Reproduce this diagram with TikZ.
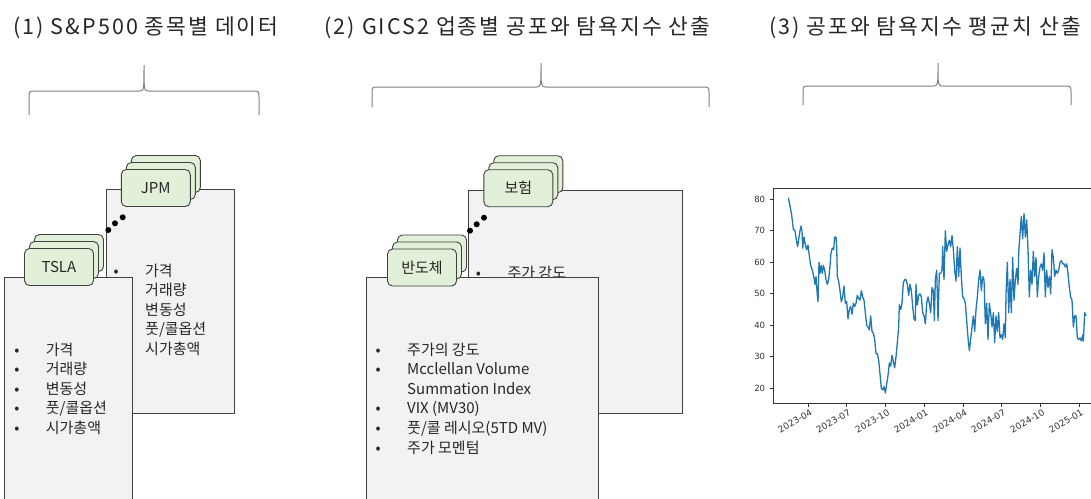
\documentclass[tikz,border=0pt]{standalone}
\usepackage{fontspec}
\setmainfont{Noto Sans CJK KR}
\newfontfamily\chartfont{DejaVu Sans}
\usetikzlibrary{positioning,shadows}

\definecolor{boxfill}{HTML}{F2F2F2}
\definecolor{boxline}{HTML}{404040}
\definecolor{tagfill}{HTML}{E2F0D9}
\definecolor{textcol}{HTML}{262626}
\definecolor{bracecol}{HTML}{808080}
\definecolor{linecol}{HTML}{1F77B4}
\definecolor{axiscol}{HTML}{333333}

\newcommand{\bul}{\makebox[29pt][l]{\makebox[0pt]{\textbullet}}}

\begin{document}
\begin{tikzpicture}[
  x=1pt, y=-1pt,
  title/.style={font=\fontsize{21.5}{24}\selectfont\addfontfeature{LetterSpace=9.5},
    text=textcol, inner sep=0pt},
  bigbox/.style={draw=boxline, fill=boxfill, line width=0.9pt, anchor=north west, inner sep=0pt},
  tagbox/.style={draw=boxline, fill=tagfill, line width=0.9pt, rounded corners=5pt,
    minimum width=69pt, minimum height=37pt, inner sep=0pt,
    font=\fontsize{15}{18}\selectfont, text=textcol,
    double copy shadow={shadow xshift=5pt, shadow yshift=7pt, fill=tagfill, draw=boxline, line width=0.9pt}},
  itemlist/.style={anchor=north west, inner sep=0pt, align=left, text=textcol,
    font=\fontsize{15}{19.6}\selectfont},
  bracket/.style={draw=bracecol, line width=1pt},
  dot/.style={circle, fill=black, inner sep=0pt, minimum size=6pt},
  ticklab/.style={font=\chartfont\fontsize{8.5}{10}\selectfont, text=axiscol, inner sep=0pt}
  ]
  \clip (0,0) rectangle (1091,498);

  \node[title] (t1) at (146,28) {(1) S\&P500 종목별 데이터};
  \node[title] (t2) at (517.5,28) {(2) GICS2 업종별 공포와 탐욕지수 산출};
  \node[title] (t3) at (925,28) {(3) 공포와 탐욕지수 평균치 산출};

  \draw[bracket] (29,115) -- (29,98) .. controls (29,91) .. (36,91) -- (139,91)
    .. controls (144,91) .. (144,65) .. controls (144,91) .. (149,91) -- (252,91)
    .. controls (259,91) .. (259,98) -- (259,115);
  \draw[bracket] (372,107) -- (372,94) .. controls (372,87) .. (379,87) -- (536,87)
    .. controls (541,87) .. (541,63) .. controls (541,87) .. (546,87) -- (702,87)
    .. controls (709,87) .. (709,94) -- (709,107);
  \draw[bracket] (803,105) -- (803,93) .. controls (803,86) .. (810,86) -- (933,86)
    .. controls (938,86) .. (938,63) .. controls (938,86) .. (943,86) -- (1064,86)
    .. controls (1071,86) .. (1071,93) -- (1071,105);

  % (1)
  \node[bigbox, minimum width=128pt, minimum height=223.7pt] (jpmbox) at (106,189.3) {};
  \node[itemlist] (jpmlist) at (116,263.5) {\bul 가격\\ \hspace*{29pt}거래량\\ \hspace*{29pt}변동성\\
    \hspace*{29pt}풋/콜옵션\\ \hspace*{29pt}시가총액};
  \node[tagbox] (jpmtag) at (155.8,188) {JPM};
  \node[dot] (jd1) at (108.3,230) {};
  \node[dot] (jd2) at (115,223.3) {};
  \node[dot] (jd3) at (122.7,217.3) {};

  \node[bigbox, minimum width=127.7pt, minimum height=240pt] (tslabox) at (4,276.7) {};
  \node[itemlist] (tslalist) at (16.7,342.5) {\bul 가격\\ \bul 거래량\\ \bul 변동성\\
    \bul 풋/콜옵션\\ \bul 시가총액};
  \node[tagbox] (tslatag) at (59,267) {TSLA};

  % (2)
  \node[bigbox, minimum width=213.4pt, minimum height=222.7pt] (insbox) at (468.3,190) {};
  \node[itemlist] (inslist) at (478.3,265.8) {\bul 주가 강도};
  \node[tagbox] (instag) at (518.3,188.2) {보험};
  \node[dot] (id1) at (470,230.7) {};
  \node[dot] (id2) at (476.7,224.3) {};
  \node[dot] (id3) at (484,217.7) {};

  \node[bigbox, minimum width=232.3pt, minimum height=240pt] (semibox) at (366,277.3) {};
  \node[itemlist] (semilist) at (378,342.5) {\bul 주가의 강도\\ \bul Mcclellan Volume\\
    \hspace*{29pt}Summation Index\\ \bul VIX (MV30)\\ \bul 풋/콜 레시오(5TD MV)\\ \bul 주가 모멘텀};
  \node[tagbox] (semitag) at (422,267.5) {반도체};

  % (3)
  \begin{scope}[x=0.33333pt, y=3.15pt, shift={(730pt,-451.3pt)}]
    \draw[axiscol, line width=0.8pt] (1100,83.5) -- (130,83.5) -- (130,15.24) -- (1100,15.24);
    \foreach \v in {20,30,...,80} {
      \draw[axiscol, line width=0.7pt] (130,\v) -- (120,\v);
      \node[ticklab, anchor=east] at (106,\v) {\v};
    }
    \foreach \px/\lab in {235/2023-04, 350/2023-07, 467/2023-10, 583/2024-01,
                          700/2024-04, 815/2024-07, 932/2024-10, 1048/2025-01} {
      \draw[axiscol, line width=0.7pt] (\px,15.24) -- (\px,14.1);
      \node[ticklab, font=\chartfont\fontsize{9}{10}\selectfont, anchor=north east, rotate=30]
        at (\px+4,13.6) {\lab};
    }
    \draw[linecol, line width=1.3pt, line join=round] plot coordinates {
      (175,80.5) (178,79) (185,75) (190,70.5) (195,70) (200,66.5) (203,65) (207,68)
      (210,70) (213,71.5) (216,70) (218,64.5) (222,68) (226,65.5) (230,64) (234,65.5)
      (238,62) (242,59) (247,57.5) (252,55) (255,53) (258,55.5) (262,49.5) (264,47.5)
      (267,60) (270,56.5) (273,59) (277,56.5) (280,59) (284,57.5) (288,54.5) (292,53)
      (296,54.5) (300,59) (303,63) (307,64.5) (311,64) (314,68) (318,68) (320,65)
      (322,55.5) (326,54) (330,51) (334,47.5) (338,49) (342,52.5) (346,47) (350,47.5)
      (354,42) (358,45) (362,46) (366,43.5) (370,47) (374,46) (378,47) (382,49.5)
      (386,48.5) (390,48) (394,51) (398,49) (402,48) (406,44) (410,40) (414,39.5)
      (418,38.5) (422,43) (426,38) (430,37.5) (434,35.5) (438,31) (442,31) (446,29)
      (450,24.5) (454,20) (458,19.5) (462,20.5) (466,18.5) (470,21.5) (474,24) (478,28)
      (482,27) (486,30.5) (490,28.5) (494,26.5) (498,30) (502,34.5) (506,39.5) (508,46.5)
      (512,45) (516,47) (520,53.5) (524,54.5) (528,54.5) (532,53) (536,49.5) (540,53)
      (544,51) (548,46) (552,42) (556,41.5) (558,53) (562,46.5) (566,49.5) (570,50)
      (574,49) (578,44) (582,43) (586,40.5) (590,47) (594,49) (598,47) (602,44)
      (606,52) (610,51) (613,41.5) (616,54.5) (620,57.5) (624,41.5) (628,56.5) (632,56.5)
      (636,57.5) (638,65) (642,54.5) (646,70) (650,63.5) (654,65.5) (658,67) (662,65)
      (666,68.5) (670,64) (674,57.5) (678,54) (682,65) (686,55.5) (690,64.5) (694,55.5)
      (698,49) (702,48.5) (706,47) (710,41.5) (714,36) (718,32) (722,35.5) (726,39.5)
      (730,43) (734,38) (738,45) (742,49) (746,54.5) (750,57.5) (754,51) (758,55.5)
      (762,54.5) (766,40.5) (770,47) (774,35.5) (778,47) (782,44) (786,39.5) (790,44)
      (794,34.5) (798,43) (802,38) (806,44) (810,36) (814,37) (818,35.5) (822,40.5)
      (826,36) (828,50) (832,60) (836,44) (840,54.5) (844,44) (848,61.5) (852,48)
      (856,54.5) (860,58) (864,53) (866,63) (870,69) (874,74.5) (878,67.5) (882,75.5)
      (886,68) (890,73.5) (894,64) (898,49) (902,57.5) (906,53) (910,63.5) (914,55.5)
      (918,61.5) (922,49) (926,55.5) (930,58.5) (934,59.5) (938,57.5) (942,63) (946,49)
      (950,57.5) (954,52) (958,55.5) (962,50) (966,64) (970,61.5) (974,55.5) (978,57.5)
      (982,56.5) (986,57.5) (990,60) (994,60.5) (998,59.5) (1002,59.5) (1006,58.5) (1010,59.5)
      (1014,56.5) (1018,52) (1022,49) (1026,48) (1030,39.5) (1034,43) (1038,43) (1042,36)
      (1046,35.5) (1050,36) (1054,35) (1058,37) (1060,35) (1064,44) (1068,43)};
  \end{scope}
\end{tikzpicture}
\end{document}
